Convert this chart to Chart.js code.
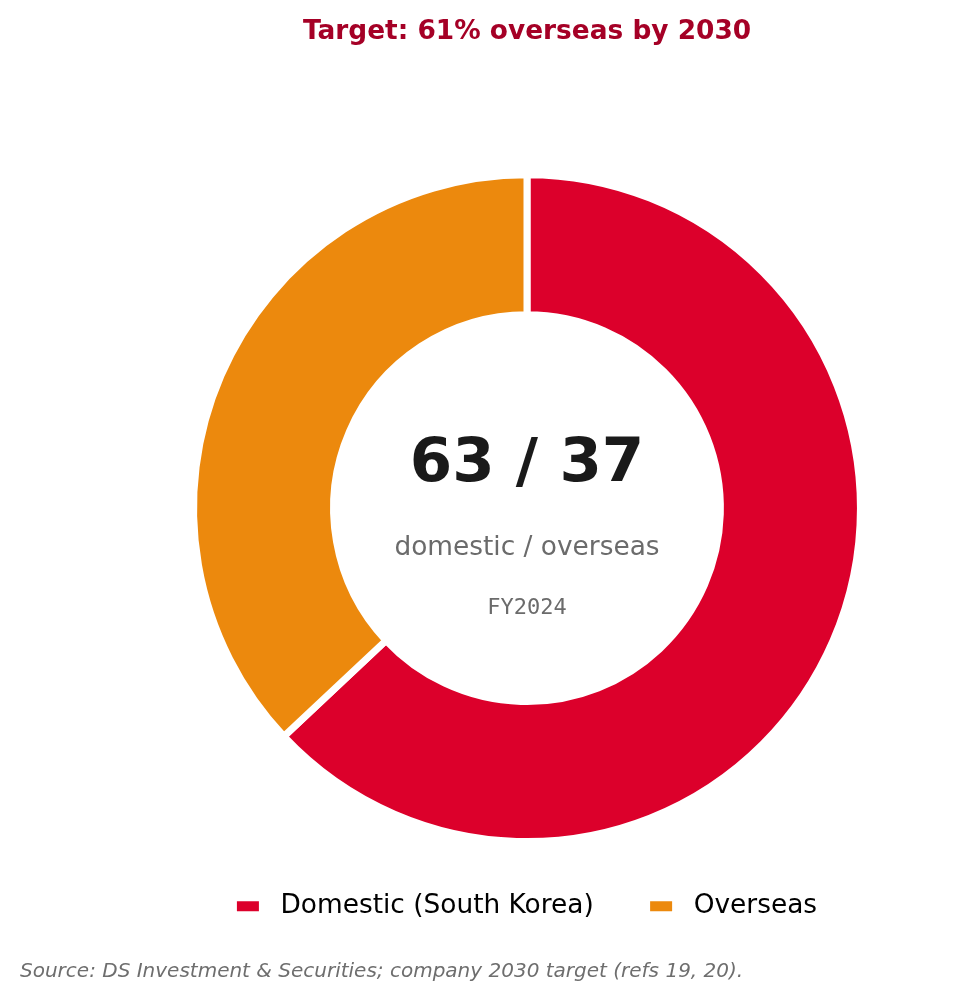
<!DOCTYPE html>
<html>
<head>
<meta charset="utf-8">
<script src="https://cdn.jsdelivr.net/npm/chart.js@4.4.1/dist/chart.umd.min.js"></script>
<style>
  html, body { margin: 0; padding: 0; background: #fff; }
  #wrap { position: relative; width: 966px; height: 1002px; }
  #source {
    position: absolute; left: 20px; top: 958px;
    font-family: 'DejaVu Sans', sans-serif; font-style: italic;
    font-size: 20px; color: #6e6e6e;
  }
</style>
</head>
<body>
<div id="wrap">
  <canvas id="chartMix" width="966" height="1002"></canvas>
  <div id="source">Source: DS Investment &amp; Securities; company 2030 target (refs 19, 20).</div>
</div>
<script>
// datos
const categorias = ['Domestic (South Korea)', 'Overseas'];
const valores = [63, 37];
const colores = ['#DC002B', '#EC890D'];

// texto del centro
const centroTexto = {
    id: 'centroTexto',
    afterDraw(chart) {
        const ctx = chart.ctx;
        const meta = chart.getDatasetMeta(0);
        if (!meta.data.length) return;
        const cx = meta.data[0].x;
        const cy = meta.data[0].y;
        ctx.save();
        ctx.textAlign = 'center';
        ctx.textBaseline = 'middle';
        ctx.fillStyle = '#1a1a1a';
        ctx.font = "bold 61px 'DejaVu Sans'";
        ctx.fillText(valores[0] + ' / ' + valores[1], cx, cy - 43);
        ctx.fillStyle = '#6b6b6b';
        ctx.font = "26.4px 'DejaVu Sans'";
        ctx.fillText('domestic / overseas', cx, cy + 40);
        ctx.font = "22px 'DejaVu Sans Mono'";
        ctx.fillText('FY2024', cx, cy + 100);
        ctx.restore();
    }
};

const ctx = document.getElementById('chartMix').getContext('2d');
const chart = new Chart(ctx, {
    type: 'doughnut',
    data: {
        labels: categorias,
        datasets: [{
            data: valores,
            backgroundColor: colores,
            borderColor: '#ffffff',
            borderWidth: 7,
            hoverOffset: 0
        }]
    },
    options: {
        responsive: false,
        animation: false,
        cutout: '58%',
        layout: {
            padding: { left: 88, right: 0, top: 0, bottom: 72.5 }
        },
        plugins: {
            title: {
                display: true,
                text: 'Target: 61% overseas by 2030',
                color: '#A50026',
                font: { family: "'DejaVu Sans'", size: 26.4, weight: 'bold' },
                padding: { top: 16, bottom: 123.5 }
            },
            legend: {
                position: 'bottom',
                labels: {
                    color: '#1a1a1a',
                    boxWidth: 22,
                    boxHeight: 10,
                    padding: 48,
                    font: { family: "'DejaVu Sans'", size: 26.4 },
                    generateLabels(chart) {
                        return categorias.map((c, i) => ({
                            text: ' ' + c + (i === 0 ? ' ' : ''),
                            fillStyle: colores[i],
                            strokeStyle: colores[i],
                            lineWidth: 0,
                            index: i
                        }));
                    }
                }
            },
            tooltip: { enabled: false }
        }
    },
    plugins: [centroTexto]
});
</script>
</body>
</html>
